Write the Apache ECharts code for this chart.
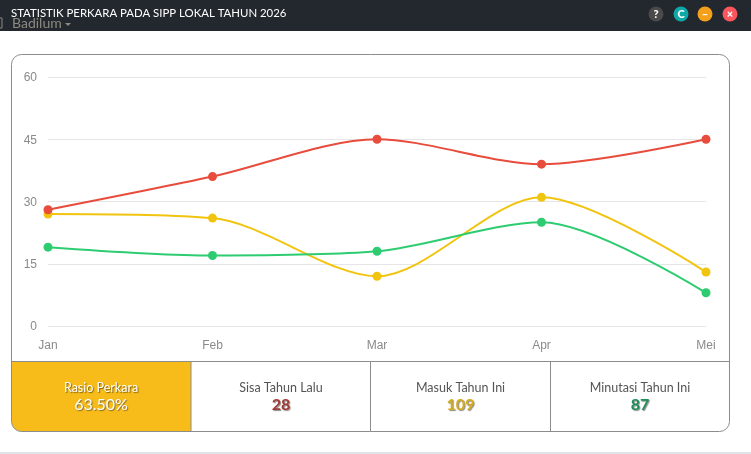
<!DOCTYPE html>
<html><head><meta charset="utf-8">
<style>html,body{margin:0;padding:0;background:#fff;overflow:hidden}#c{width:751px;height:454px}</style>
<script src="https://cdn.jsdelivr.net/npm/echarts@6/dist/echarts.min.js"></script>
</head><body><div id="c"></div>
<script>
var categories = ['Jan','Feb','Mar','Apr','Mei'];
var sisaTahunLalu = [28,36,45,39,45];
var masukTahunIni = [27,26,12,31,13];
var minutasiTahunIni = [19,17,18,25,8];
var titleText = 'STATISTIK PERKARA PADA SIPP LOKAL TAHUN 2026';
var ghostText = 'Badilum';
var statLabels = ['Rasio Perkara','Sisa Tahun Lalu','Masuk Tahun Ini','Minutasi Tahun Ini'];
var statValues = ['63.50%','28','109','87'];
var statColors = ['#ffffff','#a33a34','#d6ac1e','#1f8f58'];
var statCenters = [101,281,460.5,640];
var buttons = [['?','#4a4a4a',656],['C','#0fa8a8',681],['–','#f5a01d',705],['×','#f9565d',730]];
var FONT = 'Lato, "Open Sans", sans-serif';
var chart = echarts.init(document.getElementById('c'));
var g = [];
g.push({type:'rect',z:-10,shape:{x:0,y:0,width:751,height:31},style:{fill:'#23282e'}});
g.push({type:'rect',z:-10,shape:{x:0,y:452,width:751,height:2},style:{fill:'#dfe4e8'}});
g.push({type:'text',z:5,style:{x:12,y:16,text:ghostText,font:'14px '+FONT,fill:'#8a8a80',textVerticalAlign:'top'}});
g.push({type:'polygon',z:5,shape:{points:[[65,23],[71,23],[68,26]]},style:{fill:'#8a8a80'}});
g.push({type:'rect',z:5,shape:{x:-3,y:18,width:5,height:10},style:{fill:'none',stroke:'#8a8a80'}});
g.push({type:'text',z:6,style:{x:11,y:8,text:titleText,font:'11.4px '+FONT,fill:'#ffffff',textVerticalAlign:'top'}});
buttons.forEach(function(b){
  g.push({type:'circle',z:6,shape:{cx:b[2],cy:14,r:7.5},style:{fill:b[1]}});
  g.push({type:'text',z:7,style:{x:b[2],y:14,text:b[0],font:'900 11px '+FONT,fill:'#fff',textAlign:'center',textVerticalAlign:'middle'}});
});
// card
g.push({type:'rect',z:-5,shape:{x:11.5,y:361.5,width:179.5,height:70,r:[0,0,0,10]},style:{fill:'#f7bb1a'}});
g.push({type:'rect',z:8,shape:{x:11.5,y:54.5,width:718,height:377,r:10},style:{fill:'none',stroke:'#8c8c8c',lineWidth:1}});
g.push({type:'line',z:8,shape:{x1:11.5,y1:361.5,x2:729.5,y2:361.5},style:{stroke:'#8c8c8c'}});
[191,370.5,550.5].forEach(function(x){
  g.push({type:'line',z:8,shape:{x1:x,y1:361.5,x2:x,y2:431.5},style:{stroke:'#8c8c8c'}});
});
statLabels.forEach(function(l,i){
  g.push({type:'text',z:9,style:{x:statCenters[i],y:388,text:l,font:'12.5px '+FONT,fill:i==0?'#fff':'#555',textAlign:'center',textVerticalAlign:'middle',
    textShadowColor:i==0?'rgba(80,60,0,0.7)':'transparent',textShadowBlur:1,textShadowOffsetX:1,textShadowOffsetY:1}});
  g.push({type:'text',z:9,style:{x:statCenters[i],y:405,text:statValues[i],font:(i==0?'':'bold ')+'16px '+FONT,fill:statColors[i],textAlign:'center',textVerticalAlign:'middle',
    textShadowColor:'rgba(60,60,60,0.6)',textShadowBlur:1,textShadowOffsetX:1,textShadowOffsetY:1}});
});
function s(name,data,color){return {name:name,type:'line',smooth:0.3,data:data,symbol:'circle',symbolSize:9,showSymbol:true,
  lineStyle:{color:color,width:2},itemStyle:{color:color},animation:false};}
chart.setOption({
  animation:false,
  grid:{left:48,right:45,top:77,height:249,containLabel:false},
  xAxis:{type:'category',boundaryGap:false,data:categories,axisLine:{show:false},axisTick:{show:false},splitLine:{show:false},
    axisLabel:{color:'#8a8a8a',fontFamily:'"Liberation Sans",Arial,sans-serif',fontSize:12,margin:14,hideOverlap:false,alignMinLabel:'center',alignMaxLabel:'center'}},
  yAxis:{type:'value',min:0,max:60,interval:15,axisLine:{show:false},axisTick:{show:false},
    splitLine:{lineStyle:{color:'#e6e6e6',width:1}},
    axisLabel:{color:'#8a8a8a',fontFamily:'"Liberation Sans",Arial,sans-serif',fontSize:12,margin:11,verticalAlign:'top',padding:[-5,0,0,0]}},
  series:[s('Masuk Tahun Ini',masukTahunIni,'#f1c40f'),s('Minutasi Tahun Ini',minutasiTahunIni,'#2ecc71'),s('Sisa Tahun Lalu',sisaTahunLalu,'#e74c3c')],
  graphic:{elements:g}
});
</script></body></html>
